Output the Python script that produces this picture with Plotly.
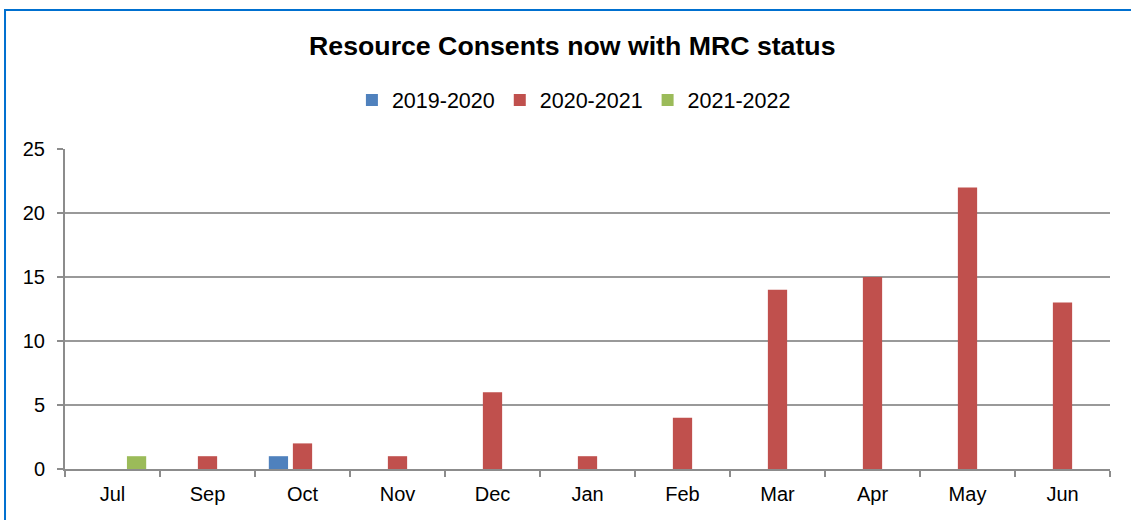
import plotly.graph_objects as go

months = ["Jul", "Sep", "Oct", "Nov", "Dec", "Jan", "Feb", "Mar", "Apr", "May", "Jun"]
series_names = ["2019-2020", "2020-2021", "2021-2022"]
v_2019_2020 = [None, None, 1, None, None, None, None, None, None, None, None]
v_2020_2021 = [None, 1, 2, 1, 6, 1, 4, 14, 15, 22, 13]
v_2021_2022 = [1, None, None, None, None, None, None, None, None, None, None]
y_ticks = [0, 5, 10, 15, 20, 25]

COLORS = ["#4F81BD", "#C0504D", "#9BBB59"]
FONT = "Liberation Sans, Arial, sans-serif"
AXIS_GREY = "#8c8c8c"

fig = go.Figure()
for name, vals, col in zip(series_names, [v_2019_2020, v_2020_2021, v_2021_2022], COLORS):
    fig.add_trace(go.Bar(x=months, y=vals, name=name, marker=dict(color=col, line=dict(width=0))))

fig.update_layout(
    width=1131, height=520,
    paper_bgcolor="white", plot_bgcolor="white",
    margin=dict(l=65, r=21, t=149, b=51),
    barmode="group", bargap=0.24, bargroupgap=0.2,
    font=dict(family=FONT, size=20, color="#000000"),
    title=dict(text="<b>Resource Consents now with MRC status</b>", x=0.506, xanchor="center",
               y=0.913, yanchor="middle", font=dict(size=26.7, family=FONT)),
    legend=dict(orientation="h", x=0.487, xanchor="center", y=1.153, yanchor="middle",
                font=dict(size=21.5), itemwidth=30, traceorder="normal"),
    showlegend=True,
    xaxis=dict(showline=True, linecolor=AXIS_GREY, linewidth=2, ticks="outside",
               tickcolor=AXIS_GREY, ticklen=6, tickwidth=2, tickson="boundaries",
               showgrid=False, tickfont=dict(size=20), ticklabelstandoff=6),
    yaxis=dict(range=[0, 25], tickvals=y_ticks, showgrid=True, gridcolor="#999999", gridwidth=2,
               showline=True, linecolor=AXIS_GREY, linewidth=2, ticks="outside",
               tickcolor=AXIS_GREY, ticklen=6, tickwidth=2, tickfont=dict(size=20),
               ticklabelstandoff=8, zeroline=False),
)
# outer chart frame (only top/left edges fall inside the picture)
fig.add_shape(type="rect", xref="paper", yref="paper", x0=-0.0574, x1=1.1, y0=-0.3, y1=1.434,
              line=dict(color="#0070D0", width=2), layer="below")
fig.write_html("out.html", config={"displayModeBar": False},
               post_script="document.body.style.margin='0';")
